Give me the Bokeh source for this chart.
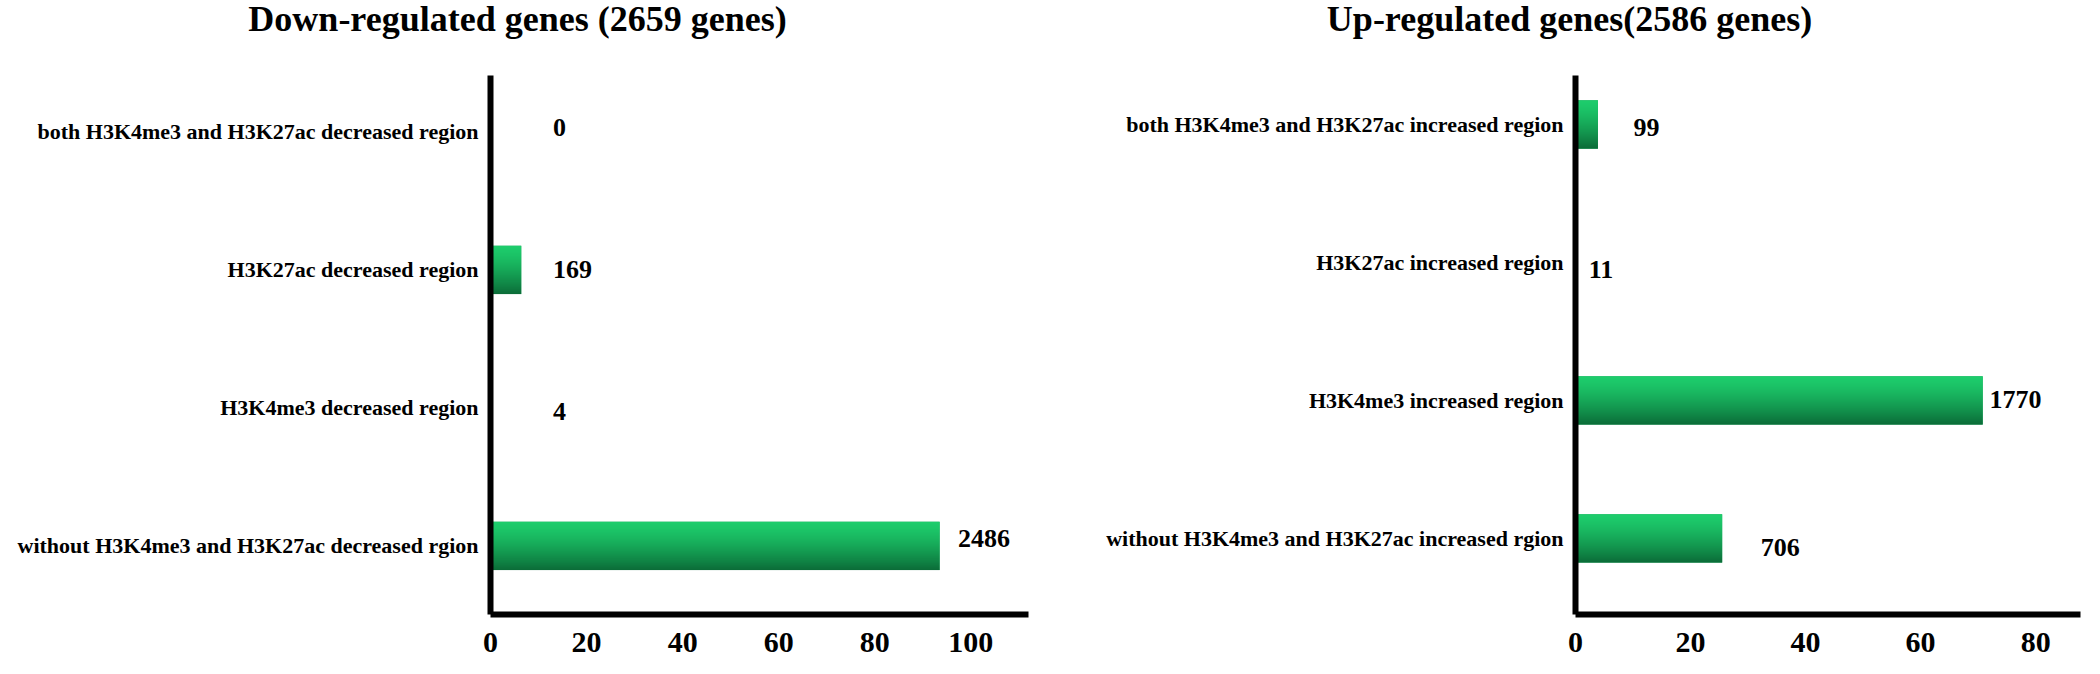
import numpy as np
from bokeh.plotting import figure
from bokeh.layouts import row, column
from bokeh.models import Range1d, FixedTicker
from bokeh.core.properties import value
from bokeh.embed import file_html
from bokeh.resources import INLINE

# ---------------- data ----------------
down_title = "Down-regulated genes (2659 genes)"
down_categories = [
    "both H3K4me3 and H3K27ac decreased region",
    "H3K27ac decreased region",
    "H3K4me3 decreased region",
    "without H3K4me3 and H3K27ac decreased rgion",
]
down_counts = [0, 169, 4, 2486]
down_percent = [0.0, 6.4, 0.15, 93.5]
down_ticks = [0, 20, 40, 60, 80, 100]

up_title = "Up-regulated genes(2586 genes)"
up_categories = [
    "both H3K4me3 and H3K27ac increased region",
    "H3K27ac increased region",
    "H3K4me3 increased region",
    "without H3K4me3 and H3K27ac increased rgion",
]
up_counts = [99, 11, 1770, 706]
up_percent = [3.9, 0.4, 70.8, 25.5]
up_ticks = [0, 20, 40, 60, 80]

# ---------------- style / layout ----------------
down_label_x = [13.0, 13.0, 13.0, 97.3]
down_label_dy = [-4, 0, 4, -7]
up_label_x = [10.1, 2.3, 72.0, 32.2]
up_label_dy = [3, 7, -1, 9]

FONT = value("Liberation Serif")
TOP_GREEN = (29, 205, 108)
BOTTOM_GREEN = (11, 108, 56)
BAR_H = 0.35
HEAD_H = 75
FIG_H = 658 - HEAD_H
B_BOTTOM = 44


def mix(t):
    return tuple(int(round(a + (b - a) * t)) for a, b in zip(TOP_GREEN, BOTTOM_GREEN))


def gradient_image(rows=96):
    img = np.zeros((rows, 1), dtype=np.uint32)
    view = img.view(dtype=np.uint8).reshape((rows, 1, 4))
    for r in range(rows):              # row 0 is the bottom of the image
        t = 1.0 - (r + 0.5) / rows     # 0 at top, 1 at bottom
        cr, cg, cb = mix(t ** 1.4)
        view[r, 0] = (cr, cg, cb, 255)
    return img


GRAD = gradient_image()


def header(title, width, cx):
    h = figure(width=width, height=HEAD_H, x_range=Range1d(0, width),
               y_range=Range1d(0, HEAD_H), output_backend="svg",
               toolbar_location=None, min_border=0)
    h.axis.visible = False
    h.grid.visible = False
    h.outline_line_color = None
    h.text(x=[cx], y=[HEAD_H - 18], text=[title], text_font=FONT,
           text_font_style="bold", text_font_size="36px", text_color="black",
           text_align="center", text_baseline="middle")
    return h


def make_panel(cats, pct, counts, label_x, label_dy, ticks,
               x_end, y_start, y_end, width, b_left, b_right):
    n = len(cats)
    ypos = [n - 1 - i for i in range(n)]
    p = figure(width=width, height=FIG_H,
               x_range=Range1d(0, x_end), y_range=Range1d(y_start, y_end),
               output_backend="svg", toolbar_location=None,
               min_border_left=b_left, min_border_right=b_right,
               min_border_top=0, min_border_bottom=B_BOTTOM)
    p.outline_line_color = None
    p.xgrid.visible = False
    p.ygrid.visible = False
    p.background_fill_color = "white"
    p.border_fill_color = "white"

    # base bar (mid green) with vertical gradient image on top
    p.hbar(y=ypos, right=pct, left=0, height=BAR_H,
           fill_color="#16a558", line_color=None)
    p.image_rgba(image=[GRAD] * n, x=[0] * n,
                 y=[y - BAR_H / 2 for y in ypos],
                 dw=pct, dh=[BAR_H] * n)

    p.text(x=label_x, y=ypos, text=[str(c) for c in counts],
           y_offset=label_dy,
           text_font=FONT, text_font_style="bold", text_font_size="26px",
           text_align="left", text_baseline="middle", text_color="black")

    for ax in (p.xaxis[0], p.yaxis[0]):
        ax.axis_line_width = 6
        ax.axis_line_color = "black"
        ax.major_tick_line_color = None
        ax.minor_tick_line_color = None
        ax.major_tick_out = 0
        ax.major_tick_in = 0
        ax.major_label_text_font = "Liberation Serif"
        ax.major_label_text_font_style = "bold"
        ax.major_label_text_color = "black"

    p.xaxis.ticker = FixedTicker(ticks=ticks)
    p.xaxis.major_label_text_font_size = "30px"
    p.xaxis.major_label_text_line_height = 0.2
    p.xaxis.major_label_standoff = 18

    p.yaxis.ticker = FixedTicker(ticks=ypos)
    p.yaxis.major_label_overrides = {y: c for y, c in zip(ypos, cats)}
    p.yaxis.major_label_text_font_size = "22px"
    p.yaxis.major_label_standoff = 12
    return p


h1 = header(down_title, 1042, 517)
h2 = header(up_title, 1040, 527)
p1 = make_panel(down_categories, down_percent, down_counts,
                down_label_x, down_label_dy, down_ticks,
                x_end=112, y_start=-0.497, y_end=3.409,
                width=1042, b_left=490, b_right=14)
p2 = make_panel(up_categories, up_percent, up_counts,
                up_label_x, up_label_dy, up_ticks,
                x_end=87.8, y_start=-0.551, y_end=3.355,
                width=1040, b_left=533, b_right=2)

layout = column(row(h1, h2), row(p1, p2))
open("out.html", "w").write(file_html(layout, INLINE))
